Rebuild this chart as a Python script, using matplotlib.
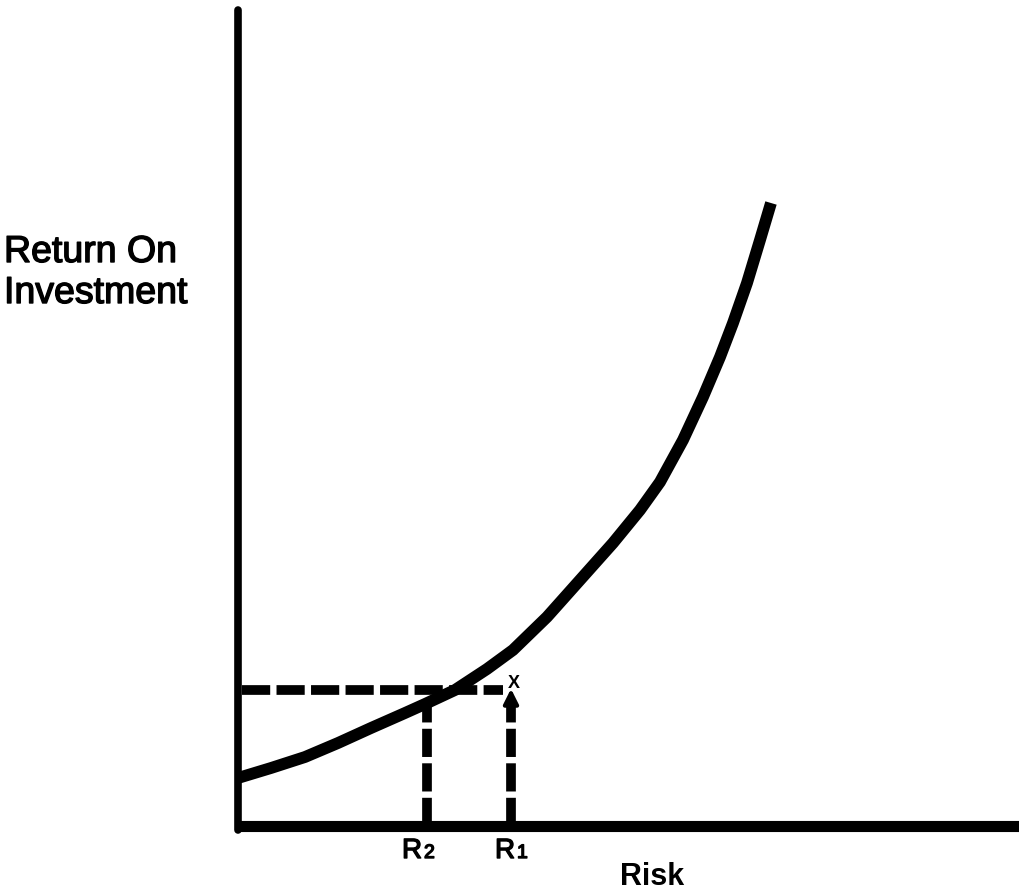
import matplotlib.pyplot as plt
import matplotlib.patheffects as pe

# pixel-space drawing (y grows downward)
W, H = 1020, 896

# risk/return curve
curveX = [238, 271, 305, 338, 371, 405, 425, 455, 487, 513, 547, 580, 613, 640,
          660, 683, 703, 720, 733, 747, 760, 771]
curveY = [778, 768, 757, 743, 728, 713, 704, 690, 669, 650, 617, 580, 543, 510,
          482, 440, 397, 357, 323, 283, 240, 203]

# dashed guides
levelY = 690
r2X = 427
r1X = 511
axisX = 238
axisY = 826

fig = plt.figure(figsize=(W / 100, H / 100), dpi=100)
ax = fig.add_axes([0, 0, 1, 1])
ax.set_xlim(0, W)
ax.set_ylim(H, 0)
ax.axis('off')

font = ['Liberation Sans', 'DejaVu Sans']
thick = [pe.withStroke(linewidth=1.0, foreground='black')]

# axes
ax.plot([axisX, axisX], [10, axisY + 4], color='black', lw=5.5, solid_capstyle='round')
ax.plot([axisX - 3, W], [axisY, axisY], color='black', lw=8, solid_capstyle='butt')

# curve
ax.plot(curveX, curveY, color='black', lw=8.5, solid_capstyle='butt', solid_joinstyle='round')

# dashed lines
dash = (2.9, 0.65)
ax.plot([axisX + 4, 503], [levelY, levelY], color='black', lw=7, dashes=dash)
ax.plot([r2X, r2X], [axisY, 704], color='black', lw=7, dashes=dash)
ax.plot([r1X, r1X], [axisY, 702], color='black', lw=7, dashes=dash)
ax.annotate('', xy=(r1X, 686), xytext=(r1X, 704),
            arrowprops=dict(arrowstyle='-|>', color='black', lw=3, mutation_scale=22))
ax.text(514, 684, 'X', fontsize=13, fontweight='bold', ha='center', va='center', family=font)

# labels
ax.text(4, 262, 'Return On', fontsize=27, ha='left', va='baseline', family=font, path_effects=thick)
ax.text(4, 303, 'Investment', fontsize=27, ha='left', va='baseline', family=font, path_effects=thick)
ax.text(402, 858, 'R', fontsize=20, ha='left', va='baseline', family=font, path_effects=thick)
ax.text(424, 858, '2', fontsize=14, ha='left', va='baseline', family=font, path_effects=thick)
ax.text(495, 858, 'R', fontsize=20, ha='left', va='baseline', family=font, path_effects=thick)
ax.text(517, 858, '1', fontsize=14, ha='left', va='baseline', family=font, path_effects=thick)
ax.text(620, 885, 'Risk', fontsize=22, fontweight='bold', ha='left', va='baseline', family=font)

fig.savefig('out.png', dpi=100)
